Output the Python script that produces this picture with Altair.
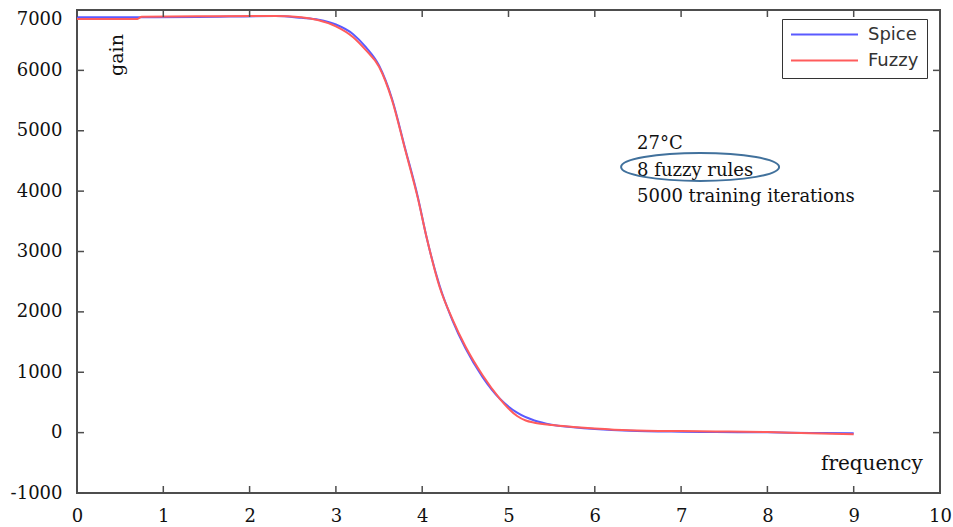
import altair as alt
import pandas as pd

# ---- data ----
spice_x = [0, 0.7, 1.4, 2.3, 2.6, 2.8, 3.0, 3.2, 3.35, 3.5, 3.65, 3.8, 3.95, 4.05,
           4.2, 4.35, 4.5, 4.7, 4.9, 5.1, 5.3, 5.5, 5.75, 6.0, 6.4, 7.0, 7.4, 8.0, 8.5, 9.0]
spice_gain = [6880, 6880, 6885, 6900, 6870, 6840, 6760, 6600, 6380, 6080, 5530, 4720, 3900, 3240,
              2440, 1860, 1400, 920, 560, 330, 200, 130, 90, 60, 30, 15, 10, 5, -5, -10]

fuzzy_x = [0, 0.7, 0.75, 1.4, 2.3, 2.6, 2.8, 3.0, 3.2, 3.35, 3.5, 3.65, 3.8, 3.95, 4.05,
           4.2, 4.35, 4.5, 4.7, 4.9, 5.0, 5.1, 5.2, 5.3, 5.5, 5.75, 6.0, 6.4, 7.0, 7.4, 8.0, 8.5, 9.0]
fuzzy_gain = [6850, 6850, 6890, 6895, 6900, 6880, 6830, 6730, 6550, 6330, 6060, 5510, 4700, 3880, 3240,
              2420, 1880, 1430, 950, 560, 400, 275, 200, 165, 125, 95, 70, 40, 25, 20, 10, -10, -25]

series_names = ["Spice", "Fuzzy"]
series_colors = ["#5a5aff", "#ff5c5c"]

x_ticks = [0, 1, 2, 3, 4, 5, 6, 7, 8, 9, 10]
y_ticks = [-1000, 0, 1000, 2000, 3000, 4000, 5000, 6000, 7000]

note_lines = ["27°C", "8 fuzzy rules", "5000 training iterations"]
note_x = [6.49, 6.49, 6.49]
note_y = [4690, 4255, 3825]
ellipse_x = [7.22]
ellipse_y = [4400]

W, H = 863, 483
FRAME = "#4d4d4d"
SERIF = "DejaVu Serif"
LABEL_EXPR = "'' + datum.value"

df = pd.concat([
    pd.DataFrame({"freq": spice_x, "gain": spice_gain, "series": "Spice"}),
    pd.DataFrame({"freq": fuzzy_x, "gain": fuzzy_gain, "series": "Fuzzy"}),
], ignore_index=True)

xs = alt.Scale(domain=[0, 10], nice=False, zero=False)
ys = alt.Scale(domain=[-1000, 7000], nice=False, zero=False)

xaxis = alt.Axis(values=x_ticks, title=None, grid=False, domain=False, ticks=False,
                 labelFont=SERIF, labelFontSize=18, labelColor="#111", labelPadding=14,
                 labelExpr=LABEL_EXPR, labelFlush=False, labelOverlap=False)
yaxis = alt.Axis(values=y_ticks, title=None, grid=False, domain=False, ticks=False,
                 labelFont=SERIF, labelFontSize=18, labelColor="#111", labelPadding=15,
                 labelExpr=LABEL_EXPR, labelOverlap=False,
                 labelBaseline={"condition": {"test": "datum.value == 7000", "value": "top"},
                                "value": "middle"})

lines = alt.Chart(df).mark_line(strokeWidth=2, interpolate="monotone").encode(
    x=alt.X("freq:Q", scale=xs, axis=xaxis),
    y=alt.Y("gain:Q", scale=ys, axis=yaxis),
    color=alt.Color("series:N",
                    scale=alt.Scale(domain=series_names, range=series_colors),
                    legend=alt.Legend(orient="none", legendX=705, legendY=9, title=None,
                                      symbolType="stroke", symbolSize=4489, symbolStrokeWidth=2,
                                      clipHeight=15,
                                      labelFont="DejaVu Sans", labelFontSize=18, labelColor="#333",
                                      labelOffset=9, padding=8, rowPadding=7,
                                      strokeColor="#333", fillColor="white", cornerRadius=0)),
    order=alt.Order("freq:Q"),
)

xt = pd.DataFrame({"freq": x_ticks})
yt = pd.DataFrame({"gain": y_ticks})

tick_bottom = alt.Chart(xt).mark_rule(color=FRAME, strokeWidth=1.5).encode(
    x=alt.X("freq:Q", scale=xs, axis=xaxis), y=alt.value(H), y2=alt.value(H - 7))
tick_top = alt.Chart(xt).mark_rule(color=FRAME, strokeWidth=1.5).encode(
    x=alt.X("freq:Q", scale=xs, axis=xaxis), y=alt.value(0), y2=alt.value(7))
tick_left = alt.Chart(yt).mark_rule(color=FRAME, strokeWidth=1.5).encode(
    y=alt.Y("gain:Q", scale=ys, axis=yaxis), x=alt.value(0), x2=alt.value(7))
tick_right = alt.Chart(yt).mark_rule(color=FRAME, strokeWidth=1.5).encode(
    y=alt.Y("gain:Q", scale=ys, axis=yaxis), x=alt.value(W), x2=alt.value(W - 7))

notes = alt.Chart(pd.DataFrame({"freq": note_x, "gain": note_y, "t": note_lines})).mark_text(
    font=SERIF, fontSize=18, align="left", baseline="alphabetic", color="#111").encode(
    x=alt.X("freq:Q", scale=xs, axis=xaxis), y=alt.Y("gain:Q", scale=ys, axis=yaxis), text="t:N")

gain_lbl = alt.Chart(pd.DataFrame({"freq": [0.46], "gain": [6255], "t": ["gain"]})).mark_text(
    font=SERIF, fontSize=19, align="center", baseline="middle", angle=270, color="#111").encode(
    x=alt.X("freq:Q", scale=xs, axis=xaxis), y=alt.Y("gain:Q", scale=ys, axis=yaxis), text="t:N")

freq_lbl = alt.Chart(pd.DataFrame({"freq": [9.21], "gain": [-520], "t": ["frequency"]})).mark_text(
    font=SERIF, fontSize=20, align="center", baseline="middle", color="#111").encode(
    x=alt.X("freq:Q", scale=xs, axis=xaxis), y=alt.Y("gain:Q", scale=ys, axis=yaxis), text="t:N")

ELLIPSE = ("M -1 0 C -1 -0.0978 -0.5523 -0.177 0 -0.177 C 0.5523 -0.177 1 -0.0978 1 0 "
           "C 1 0.0978 0.5523 0.177 0 0.177 C -0.5523 0.177 -1 0.0978 -1 0 Z")
ellipse = alt.Chart(pd.DataFrame({"freq": ellipse_x, "gain": ellipse_y})).mark_point(
    shape=ELLIPSE, size=158 * 158, filled=False, stroke="#41719c", strokeWidth=2, opacity=1).encode(
    x=alt.X("freq:Q", scale=xs, axis=xaxis), y=alt.Y("gain:Q", scale=ys, axis=yaxis))

chart = alt.layer(
    lines, tick_bottom, tick_top, tick_left, tick_right, notes, gain_lbl, freq_lbl, ellipse
).properties(
    width=W, height=H,
    padding={"left": 77, "top": 10, "right": 13, "bottom": 34},
    autosize="none",
    background="white",
).configure_view(stroke=FRAME, strokeWidth=2)

chart.save("out.html", embed_options={"renderer": "svg", "actions": False})
